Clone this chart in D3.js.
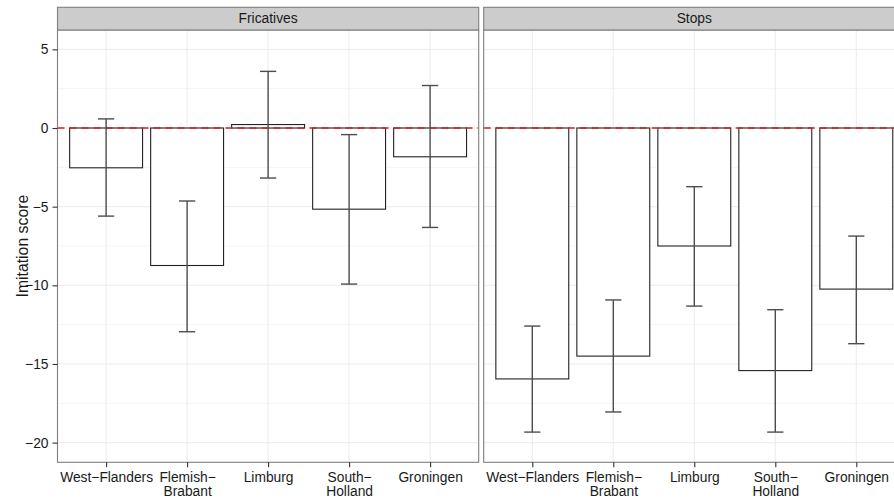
<!DOCTYPE html>
<html>
<head>
<meta charset="utf-8">
<script src="https://cdn.jsdelivr.net/npm/d3@7"></script>
<style>
  html, body { margin: 0; padding: 0; background: #fff; }
  svg { display: block; font-family: "Liberation Sans", Arial, Helvetica, sans-serif; }
</style>
</head>
<body>
<svg id="chart" width="894" height="501"></svg>
<script>
// Regions on the x axis (tick labels may wrap onto two lines)
const regions = ["West-Flanders", "Flemish-Brabant", "Limburg", "South-Holland", "Groningen"];
const regionLabels = [["West\u2212Flanders"], ["Flemish\u2212", "Brabant"], ["Limburg"], ["South\u2212", "Holland"], ["Groningen"]];
const panels = ["Fricatives", "Stops"];

// Mean imitation score per region, and the error-bar bounds
const fricMean  = [-2.53, -8.74, 0.22, -5.16, -1.83];
const fricLow   = [-5.60, -12.95, -3.18, -9.92, -6.32];
const fricHigh  = [0.58, -4.64, 3.60, -0.42, 2.70];
const stopMean  = [-15.95, -14.50, -7.50, -15.42, -10.24];
const stopLow   = [-19.33, -18.05, -11.32, -19.33, -13.71];
const stopHigh  = [-12.59, -10.93, -3.73, -11.55, -6.87];

const yTicks = [5, 0, -5, -10, -15, -20];
const yMinor = [2.5, -2.5, -7.5, -12.5, -17.5];

const series = [
  { panel: panels[0], mean: fricMean, low: fricLow, high: fricHigh },
  { panel: panels[1], mean: stopMean, low: stopLow, high: stopHigh }
];

const svg = d3.select("#chart");

const panelTop = 30, panelBottom = 462.3;
const stripTop = 7.3;
const panelWidth = 421.2;
const panelLefts = [57.5, 483.7];
const fontSize = 13.8;

const y = d3.scaleLinear().domain([-21.25, 6.23]).range([panelBottom, panelTop]);

// x positions: discrete scale expanded by 0.6 of a step on each side
function makeX(left) {
  return d3.scalePoint().domain(regions).range([left, left + panelWidth]).padding(0.6);
}

series.forEach((s, pi) => {
  const left = panelLefts[pi];
  const x = makeX(left);
  const step = x.step();
  const barW = step * 0.9;
  const capW = step * 0.2;
  const g = svg.append("g");

  // panel background
  g.append("rect").attr("x", left).attr("y", panelTop)
    .attr("width", panelWidth).attr("height", panelBottom - panelTop)
    .attr("fill", "#fff");

  // minor grid
  g.selectAll(".minor").data(yMinor).join("line")
    .attr("x1", left).attr("x2", left + panelWidth)
    .attr("y1", d => y(d)).attr("y2", d => y(d))
    .attr("stroke", "#f5f5f5").attr("stroke-width", 1);
  // major grid
  g.selectAll(".majorY").data(yTicks).join("line")
    .attr("x1", left).attr("x2", left + panelWidth)
    .attr("y1", d => y(d)).attr("y2", d => y(d))
    .attr("stroke", "#ebebeb").attr("stroke-width", 1);
  g.selectAll(".majorX").data(regions).join("line")
    .attr("x1", d => x(d)).attr("x2", d => x(d))
    .attr("y1", panelTop).attr("y2", panelBottom)
    .attr("stroke", "#ebebeb").attr("stroke-width", 1);

  // bars
  g.selectAll(".bar").data(regions).join("rect")
    .attr("x", d => x(d) - barW / 2)
    .attr("width", barW)
    .attr("y", (d, i) => Math.min(y(s.mean[i]), y(0)))
    .attr("height", (d, i) => Math.abs(y(s.mean[i]) - y(0)))
    .attr("fill", "#fff").attr("stroke", "#222").attr("stroke-width", 1.1);

  // reference line at zero
  g.append("line")
    .attr("x1", left).attr("x2", left + panelWidth)
    .attr("y1", y(0)).attr("y2", y(0))
    .attr("stroke", "#dd1a1a").attr("stroke-width", 1.6)
    .attr("stroke-dasharray", "7,5");

  // error bars
  const eb = g.selectAll(".eb").data(regions).join("g").attr("stroke", "#4d4d4d").attr("stroke-width", 1.4);
  eb.append("line")
    .attr("x1", d => x(d)).attr("x2", d => x(d))
    .attr("y1", (d, i) => y(s.low[i])).attr("y2", (d, i) => y(s.high[i]));
  eb.append("line")
    .attr("x1", d => x(d) - capW / 2).attr("x2", d => x(d) + capW / 2)
    .attr("y1", (d, i) => y(s.low[i])).attr("y2", (d, i) => y(s.low[i]));
  eb.append("line")
    .attr("x1", d => x(d) - capW / 2).attr("x2", d => x(d) + capW / 2)
    .attr("y1", (d, i) => y(s.high[i])).attr("y2", (d, i) => y(s.high[i]));

  // panel border
  g.append("rect").attr("x", left).attr("y", panelTop)
    .attr("width", panelWidth).attr("height", panelBottom - panelTop)
    .attr("fill", "none").attr("stroke", "#7f7f7f").attr("stroke-width", 1.1);

  // strip
  g.append("rect").attr("x", left).attr("y", stripTop)
    .attr("width", panelWidth).attr("height", panelTop - stripTop)
    .attr("fill", "#cccccc").attr("stroke", "#7f7f7f").attr("stroke-width", 1.1);
  g.append("text").attr("x", left + panelWidth / 2).attr("y", (stripTop + panelTop) / 2)
    .attr("text-anchor", "middle").attr("dominant-baseline", "central")
    .attr("font-size", fontSize).attr("fill", "#1a1a1a").text(s.panel);

  // x axis
  const xAxis = g.append("g").attr("transform", `translate(0,${panelBottom})`)
    .call(d3.axisBottom(x).tickSize(5).tickPadding(4).tickFormat(""));
  xAxis.select(".domain").remove();
  xAxis.selectAll(".tick line").attr("stroke", "#333").attr("stroke-width", 1.1);
  xAxis.selectAll(".tick").each(function(d, i) {
    const t = d3.select(this).append("text")
      .attr("y", 19.5).attr("text-anchor", "middle")
      .attr("font-size", fontSize).attr("fill", "#1a1a1a");
    regionLabels[i].forEach((line, li) => {
      t.append("tspan").attr("x", 0).attr("dy", li === 0 ? 0 : 14.5).text(line);
    });
  });
});

// y axis (left panel only)
const yAxis = svg.append("g").attr("transform", `translate(${panelLefts[0]},0)`)
  .call(d3.axisLeft(y).tickValues(yTicks).tickSize(5).tickPadding(4)
    .tickFormat(d => d < 0 ? "\u2212" + Math.abs(d) : d));
yAxis.select(".domain").remove();
yAxis.selectAll(".tick line").attr("stroke", "#333").attr("stroke-width", 1.1);
yAxis.selectAll(".tick text").attr("font-size", fontSize).attr("fill", "#1a1a1a")
  .attr("font-family", "Liberation Sans, Arial, sans-serif");

svg.append("text")
  .attr("transform", `translate(22,${(panelTop + panelBottom) / 2}) rotate(-90)`)
  .attr("text-anchor", "middle").attr("dominant-baseline", "central")
  .attr("font-size", 15.8).attr("fill", "#1a1a1a").text("Imitation score");
</script>
</body>
</html>
